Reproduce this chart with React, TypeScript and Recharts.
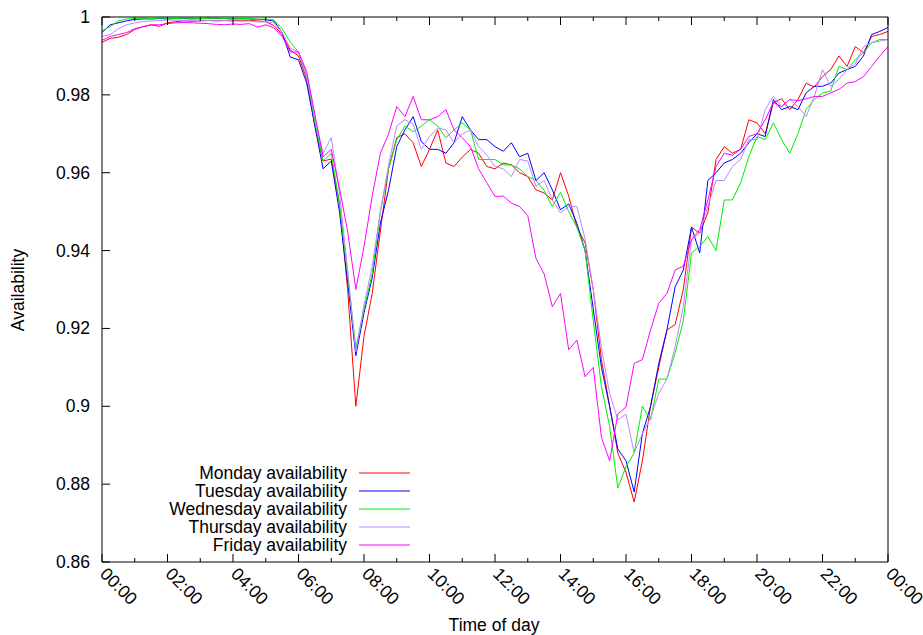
import { LineChart, Line, XAxis, YAxis, Legend } from 'recharts';

const FONT = "'Liberation Sans', Arial, Helvetica, sans-serif";
const FONT_SIZE = 17.5;

// sampled every 15 minutes, 00:00 through 24:00
const HOUR_STEP = 0.25;
const hours = Array.from({ length: 97 }, (_, i) => i * HOUR_STEP);

const monday = [
	0.9935, 0.9945, 0.9948, 0.9955, 0.9968, 0.9975, 0.998, 0.9976,
	0.9985, 0.9988, 0.999, 0.9989, 0.999, 0.9991, 0.999, 0.9991,
	0.999, 0.9992, 0.9991, 0.999, 0.9988, 0.9978, 0.9955, 0.9915,
	0.99, 0.984, 0.972, 0.963, 0.9635, 0.952, 0.93, 0.9,
	0.918, 0.929, 0.945, 0.961, 0.969, 0.97, 0.9677, 0.9616,
	0.966, 0.971, 0.9625, 0.9616, 0.964, 0.966, 0.965, 0.9616,
	0.961, 0.9625, 0.962, 0.96, 0.959, 0.9556, 0.9548, 0.953,
	0.96, 0.954, 0.946, 0.942, 0.93, 0.912, 0.9, 0.888,
	0.883, 0.8754, 0.886, 0.9, 0.91, 0.9196, 0.921, 0.93,
	0.946, 0.9445, 0.9497, 0.9634, 0.9667, 0.965, 0.966, 0.9736,
	0.9728, 0.97, 0.978, 0.979, 0.9762, 0.9788, 0.983, 0.982,
	0.9847, 0.9865, 0.99, 0.9873, 0.9924, 0.9908, 0.995, 0.9955,
	0.9963,
];

const tuesday = [
	0.996, 0.998, 0.9985, 0.999, 0.9994, 0.9995, 0.9995, 0.9996,
	0.9995, 0.9996, 0.9996, 0.9995, 0.9996, 0.9997, 0.9996, 0.9996,
	0.9995, 0.9996, 0.9995, 0.9994, 0.9993, 0.999, 0.996, 0.9897,
	0.989, 0.983, 0.972, 0.961, 0.963, 0.95, 0.932, 0.913,
	0.924, 0.933, 0.947, 0.9556, 0.9667, 0.971, 0.9744, 0.968,
	0.966, 0.966, 0.965, 0.9677, 0.9744, 0.971, 0.9685, 0.9685,
	0.9667, 0.9655, 0.9677, 0.9641, 0.965, 0.958, 0.96, 0.9556,
	0.9505, 0.952, 0.947, 0.94, 0.925, 0.91, 0.9, 0.889,
	0.886, 0.878, 0.893, 0.9, 0.911, 0.9196, 0.9307, 0.935,
	0.946, 0.9394, 0.958, 0.96, 0.9625, 0.9634, 0.965, 0.9677,
	0.97, 0.9693, 0.9788, 0.9762, 0.977, 0.9762, 0.9805, 0.9822,
	0.9822, 0.983, 0.9856, 0.9865, 0.9873, 0.99, 0.9955, 0.9963,
	0.9973,
];

const wednesday = [
	0.9965, 0.9975, 0.999, 0.9995, 0.9996, 0.9997, 0.9996, 0.9997,
	0.9997, 0.9996, 0.9997, 0.9997, 0.9996, 0.9996, 0.9997, 0.9996,
	0.9995, 0.9996, 0.9996, 0.9994, 0.9995, 0.9992, 0.997, 0.9935,
	0.991, 0.985, 0.973, 0.963, 0.965, 0.952, 0.934, 0.915,
	0.925, 0.934, 0.95, 0.961, 0.9685, 0.972, 0.9705, 0.972,
	0.9736, 0.972, 0.969, 0.971, 0.9728, 0.971, 0.9634, 0.9634,
	0.9634, 0.962, 0.962, 0.961, 0.959, 0.958, 0.9555, 0.9513,
	0.955, 0.95, 0.946, 0.94, 0.922, 0.905, 0.8948, 0.879,
	0.8845, 0.888, 0.9, 0.8965, 0.907, 0.907, 0.9137, 0.922,
	0.9394, 0.941, 0.9436, 0.94, 0.953, 0.953, 0.9574, 0.9641,
	0.9693, 0.9685, 0.9728, 0.9685, 0.965, 0.97, 0.9762, 0.9788,
	0.9805, 0.981, 0.9873, 0.9865, 0.989, 0.9908, 0.9934, 0.9942,
	0.9942,
];

const thursday = [
	0.995, 0.9955, 0.997, 0.998, 0.9985, 0.9988, 0.999, 0.9991,
	0.9992, 0.9992, 0.9991, 0.9992, 0.9992, 0.9991, 0.999, 0.9991,
	0.999, 0.9989, 0.999, 0.9987, 0.9988, 0.9985, 0.996, 0.992,
	0.991, 0.985, 0.974, 0.965, 0.969, 0.955, 0.935, 0.914,
	0.926, 0.936, 0.95, 0.962, 0.972, 0.9736, 0.9725, 0.966,
	0.9693, 0.9715, 0.971, 0.9677, 0.97, 0.971, 0.9667, 0.9645,
	0.9616, 0.961, 0.959, 0.9634, 0.963, 0.9565, 0.958, 0.953,
	0.9497, 0.9513, 0.9513, 0.943, 0.93, 0.915, 0.9033, 0.8965,
	0.898, 0.888, 0.893, 0.897, 0.9033, 0.907, 0.9153, 0.9256,
	0.9428, 0.9445, 0.9513, 0.958, 0.958, 0.9616, 0.9634, 0.9685,
	0.9685, 0.9762, 0.9796, 0.977, 0.9788, 0.977, 0.9744, 0.9796,
	0.9865, 0.9822, 0.984, 0.9865, 0.988, 0.9924, 0.9934, 0.9938,
	0.9942,
];

const friday = [
	0.994, 0.995, 0.9955, 0.996, 0.997, 0.9975, 0.998, 0.998,
	0.9983, 0.9985, 0.9986, 0.9985, 0.9984, 0.9983, 0.9981, 0.998,
	0.9982, 0.9981, 0.9983, 0.9974, 0.998, 0.9972, 0.995, 0.991,
	0.991, 0.986, 0.975, 0.964, 0.966, 0.956, 0.945, 0.93,
	0.941, 0.954, 0.965, 0.97, 0.977, 0.9744, 0.9796, 0.9736,
	0.9736, 0.9744, 0.9762, 0.971, 0.969, 0.9667, 0.961, 0.9574,
	0.9539, 0.954, 0.9522, 0.9513, 0.949, 0.938, 0.934, 0.9256,
	0.929, 0.9145, 0.917, 0.9076, 0.91, 0.892, 0.886, 0.898,
	0.8998, 0.911, 0.912, 0.9196, 0.9265, 0.929, 0.935, 0.936,
	0.9428, 0.9454, 0.953, 0.9616, 0.965, 0.9645, 0.966, 0.9693,
	0.97, 0.9736, 0.978, 0.977, 0.9788, 0.9785, 0.979, 0.9796,
	0.9796, 0.9805, 0.9814, 0.983, 0.9834, 0.9847, 0.9873, 0.99,
	0.9924,
];

const series = [
	{ key: 'mon', name: 'Monday availability', color: '#ff0000', values: monday },
	{ key: 'tue', name: 'Tuesday availability', color: '#0000ff', values: tuesday },
	{ key: 'wed', name: 'Wednesday availability', color: '#00ee00', values: wednesday },
	{ key: 'thu', name: 'Thursday availability', color: '#bb88ff', values: thursday },
	{ key: 'fri', name: 'Friday availability', color: '#ff00ff', values: friday },
];

const yTicks = [0.86, 0.88, 0.9, 0.92, 0.94, 0.96, 0.98, 1];
const xTicks = Array.from({ length: 25 }, (_, i) => i);

const data = hours.map((hour, i) => {
	const row: Record<string, number> = { hour };
	series.forEach((s) => {
		row[s.key] = s.values[i];
	});
	return row;
});

const formatHour = (h: number) => `${String(h % 24).padStart(2, '0')}:00`;

function BottomTick({ x, y, payload }: any) {
	const h = payload.value;
	const major = h % 2 === 0;
	const tx = x - 3;
	const ty = y + 13;
	return (
		<g>
			<line x1={x} y1={y} x2={x} y2={y - (major ? 8 : 4)} stroke="#000" />
			{major && (
				<text
					x={tx}
					y={ty}
					transform={`rotate(45 ${tx} ${ty})`}
					textAnchor="start"
					fontFamily={FONT}
					fontSize={FONT_SIZE}
					fill="#000"
				>
					{formatHour(h)}
				</text>
			)}
		</g>
	);
}

function TopTick({ x, y, payload }: any) {
	const major = payload.value % 2 === 0;
	return <line x1={x} y1={y} x2={x} y2={y + (major ? 8 : 4)} stroke="#000" />;
}

function LeftTick({ x, y, payload }: any) {
	return (
		<g>
			<line x1={x} y1={y} x2={x + 8} y2={y} stroke="#000" />
			<text
				x={x - 12}
				y={y + 6}
				textAnchor="end"
				fontFamily={FONT}
				fontSize={FONT_SIZE}
				fill="#000"
			>
				{String(Number(payload.value.toFixed(2)))}
			</text>
		</g>
	);
}

function RightTick({ x, y }: any) {
	return <line x1={x} y1={y} x2={x - 8} y2={y} stroke="#000" />;
}

// key box in plotting order, text right-aligned with a short line sample
function KeyBox() {
	return (
		<div style={{ fontFamily: FONT, fontSize: FONT_SIZE, color: '#000' }}>
			{series.map((s) => (
				<div
					key={s.key}
					style={{ display: 'flex', alignItems: 'center', justifyContent: 'flex-end', height: 18 }}
				>
					<span style={{ lineHeight: '18px', whiteSpace: 'nowrap' }}>{s.name}</span>
					<svg width={51} height={4} style={{ marginLeft: 12, display: 'block' }}>
						<line x1={0} y1={2} x2={51} y2={2} stroke={s.color} strokeWidth={1} />
					</svg>
				</div>
			))}
		</div>
	);
}

export default function App() {
	return (
		<div style={{ position: 'absolute', left: 0, top: 0, background: '#fff' }}>
			<LineChart width={923} height={635} data={data} margin={{ top: 0, right: 0, bottom: 0, left: 0 }}>
				<XAxis
					dataKey="hour"
					type="number"
					domain={[0, 24]}
					ticks={xTicks}
					interval={0}
					height={73}
					tickSize={0}
					tickMargin={0}
					tickLine={false}
					axisLine={{ stroke: '#000' }}
					tick={BottomTick}
					label={{
						content: () => (
							<text x={494} y={631} textAnchor="middle" fontFamily={FONT} fontSize={FONT_SIZE} fill="#000">
								Time of day
							</text>
						),
					}}
				/>
				<XAxis
					xAxisId="top"
					orientation="top"
					dataKey="hour"
					type="number"
					domain={[0, 24]}
					ticks={xTicks}
					interval={0}
					height={17}
					tickSize={0}
					tickMargin={0}
					tickLine={false}
					axisLine={{ stroke: '#000' }}
					tick={TopTick}
				/>
				<YAxis
					type="number"
					domain={[0.86, 1]}
					ticks={yTicks}
					interval={0}
					width={102}
					tickSize={0}
					tickMargin={0}
					tickLine={false}
					axisLine={{ stroke: '#000' }}
					tick={LeftTick}
					label={{
						content: () => (
							<text
								x={24}
								y={290}
								transform="rotate(-90 24 290)"
								textAnchor="middle"
								fontFamily={FONT}
								fontSize={FONT_SIZE}
								fill="#000"
							>
								Availability
							</text>
						),
					}}
				/>
				<YAxis
					yAxisId="right"
					orientation="right"
					type="number"
					domain={[0.86, 1]}
					ticks={yTicks}
					interval={0}
					width={35}
					tickSize={0}
					tickMargin={0}
					tickLine={false}
					axisLine={{ stroke: '#000' }}
					tick={RightTick}
				/>
				<Legend
					layout="vertical"
					align="center"
					verticalAlign="middle"
					content={KeyBox}
					wrapperStyle={{ left: 120, top: 464, width: 290 }}
				/>
				{series.map((s) => (
					<Line
						key={s.key}
						type="linear"
						dataKey={s.key}
						name={s.name}
						stroke={s.color}
						strokeWidth={1}
						dot={false}
						activeDot={false}
						isAnimationActive={false}
					/>
				))}
			</LineChart>
		</div>
	);
}
